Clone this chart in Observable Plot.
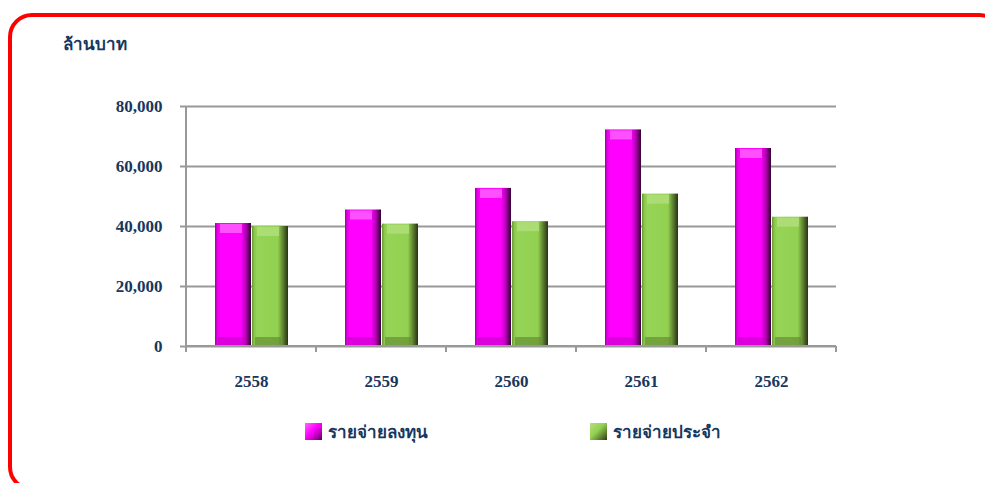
<!DOCTYPE html>
<html>
<head>
<meta charset="utf-8">
<script src="https://cdn.jsdelivr.net/npm/d3@7"></script>
<script src="https://cdn.jsdelivr.net/npm/@observablehq/plot@0.6"></script>
<style>
  html, body { margin: 0; padding: 0; background: #fff; overflow: hidden; }
  #wrap { position: relative; width: 985px; height: 483px; overflow: hidden; }
  #border { position: absolute; left: 8px; top: 13px; width: 995px; height: 478px;
            border: 4px solid #ff0000; border-radius: 24px; box-sizing: border-box; }
  #title { position: absolute; left: 63px; top: 30px; font-family: "Liberation Serif", serif;
           font-weight: bold; font-size: 17px; color: #17375E; }
  #chart { position: absolute; left: 0; top: 0; }
  #legend { position: absolute; top: 418px; left: 0; width: 985px; font-family: "Liberation Serif", serif;
            font-weight: bold; font-size: 17px; color: #17375E; }
  .item { position: absolute; display: flex; align-items: center; gap: 6px; }
  .sw { width: 17px; height: 17px; box-sizing: border-box; }
  #chart svg g[aria-label="y-grid"] line, #chart svg g[aria-label="y-grid"] path { stroke: #999; stroke-opacity: 1; stroke-width: 2; }
  #chart svg g[aria-label="y-axis tick"] path, #chart svg g[aria-label="y-axis tick"] line { stroke: #999; stroke-width: 2; }
</style>
</head>
<body>
<div id="wrap">
  <div id="border"></div>
  <div id="title">ล้านบาท</div>
  <div id="chart"></div>
  <div id="legend"></div>
</div>
<script>
const years = ["2558", "2559", "2560", "2561", "2562"];
const seriesNames = ["รายจ่ายลงทุน", "รายจ่ายประจำ"];
const capitalSpending = [41000, 45500, 52700, 72200, 66000];
const recurrentSpending = [40000, 40800, 41600, 50800, 43100];
const yTicks = [0, 20000, 40000, 60000, 80000];

const data = years.flatMap((yr, i) => [
  {year: yr, series: seriesNames[0], value: capitalSpending[i]},
  {year: yr, series: seriesNames[1], value: recurrentSpending[i]}
]);

const topShade = ["#ff6bff", "#b4e080"];
const bottomShade = ["#c400c4", "#5f8230"];

const chart = Plot.plot({
  width: 985,
  height: 400,
  marginTop: 106,
  marginBottom: 54,
  marginLeft: 186,
  marginRight: 149,
  style: {fontFamily: "Liberation Serif", fontSize: "17px", fontWeight: "bold", color: "#17375E", background: "transparent", overflow: "visible"},
  fx: {domain: years, padding: 0, label: null, tickSize: 0, tickPadding: 28},
  x: {domain: seriesNames, axis: null, paddingInner: 0.03, paddingOuter: 0.75},
  y: {domain: [0, 80000], ticks: yTicks, tickFormat: d3.format(",.0f"), grid: true, tickSize: 6, tickPadding: 18, label: null},
  color: {domain: seriesNames, range: ["url(#gradM)", "url(#gradG)"]},
  marks: [
    Plot.barY(data, {fx: "year", x: "series", y: "value", fill: "series"}),
    ...seriesNames.map((s, k) => Plot.tickY(data.filter(d => d.series === s), {fx: "year", x: "series", y: "value", stroke: topShade[k], strokeWidth: 9, strokeOpacity: 0.75, dy: 5, insetLeft: 5, insetRight: 9})),
    ...seriesNames.map((s, k) => Plot.tickY(data.filter(d => d.series === s), {fx: "year", x: "series", y: () => 0, stroke: bottomShade[k], strokeWidth: 9, strokeOpacity: 0.6, dy: -5, insetLeft: 3, insetRight: 7}))
  ]
});

document.getElementById("chart").appendChild(chart);

const svg = d3.select(chart);
const defs = svg.insert("defs", ":first-child");
function grad(id, stops) {
  const g = defs.append("linearGradient").attr("id", id).attr("x1", "0").attr("x2", "1").attr("y1", "0").attr("y2", "0");
  stops.forEach(([o, c]) => g.append("stop").attr("offset", o).attr("stop-color", c));
}
grad("gradM", [["0", "#a000a0"], ["0.07", "#e800e8"], ["0.14", "#ff00ff"], ["0.72", "#ff00ff"], ["0.86", "#b000b0"], ["1", "#300030"]]);
grad("gradG", [["0", "#6a9638"], ["0.07", "#8cc84c"], ["0.14", "#96d458"], ["0.72", "#92d050"], ["0.86", "#5e8030"], ["1", "#263414"]]);

const fx = chart.scale("fx");
const ys = chart.scale("y");
const yTop = ys.apply(yTicks[yTicks.length - 1]);
const yBase = ys.apply(0);
const xStart = fx.apply(years[0]);
const xEnd = fx.apply(years[years.length - 1]) + fx.bandwidth;
const ax = svg.append("g").attr("stroke", "#999").attr("stroke-width", 2);
ax.append("line").attr("x1", xStart).attr("x2", xStart).attr("y1", yTop).attr("y2", yBase);
ax.append("line").attr("x1", xStart).attr("x2", xEnd).attr("y1", yBase).attr("y2", yBase);
[...years.map(y => fx.apply(y)), xEnd].forEach(x =>
  ax.append("line").attr("x1", x).attr("x2", x).attr("y1", yBase).attr("y2", yBase + 6));

// legend
const legend = document.getElementById("legend");
const swatchBg = [
  "linear-gradient(135deg, #ff66ff 0%, #ff00ff 45%, #b000b0 75%, #500050 100%)",
  "linear-gradient(135deg, #b4e080 0%, #92d050 45%, #5e8030 75%, #2a3a15 100%)"
];
const legendLeft = [305, 590];
seriesNames.forEach((s, k) => {
  const it = document.createElement("div");
  it.className = "item";
  it.style.left = legendLeft[k] + "px";
  const sw = document.createElement("div");
  sw.className = "sw";
  sw.style.background = swatchBg[k];
  const tx = document.createElement("span");
  tx.textContent = s;
  it.appendChild(sw);
  it.appendChild(tx);
  legend.appendChild(it);
});
</script>
</body>
</html>
